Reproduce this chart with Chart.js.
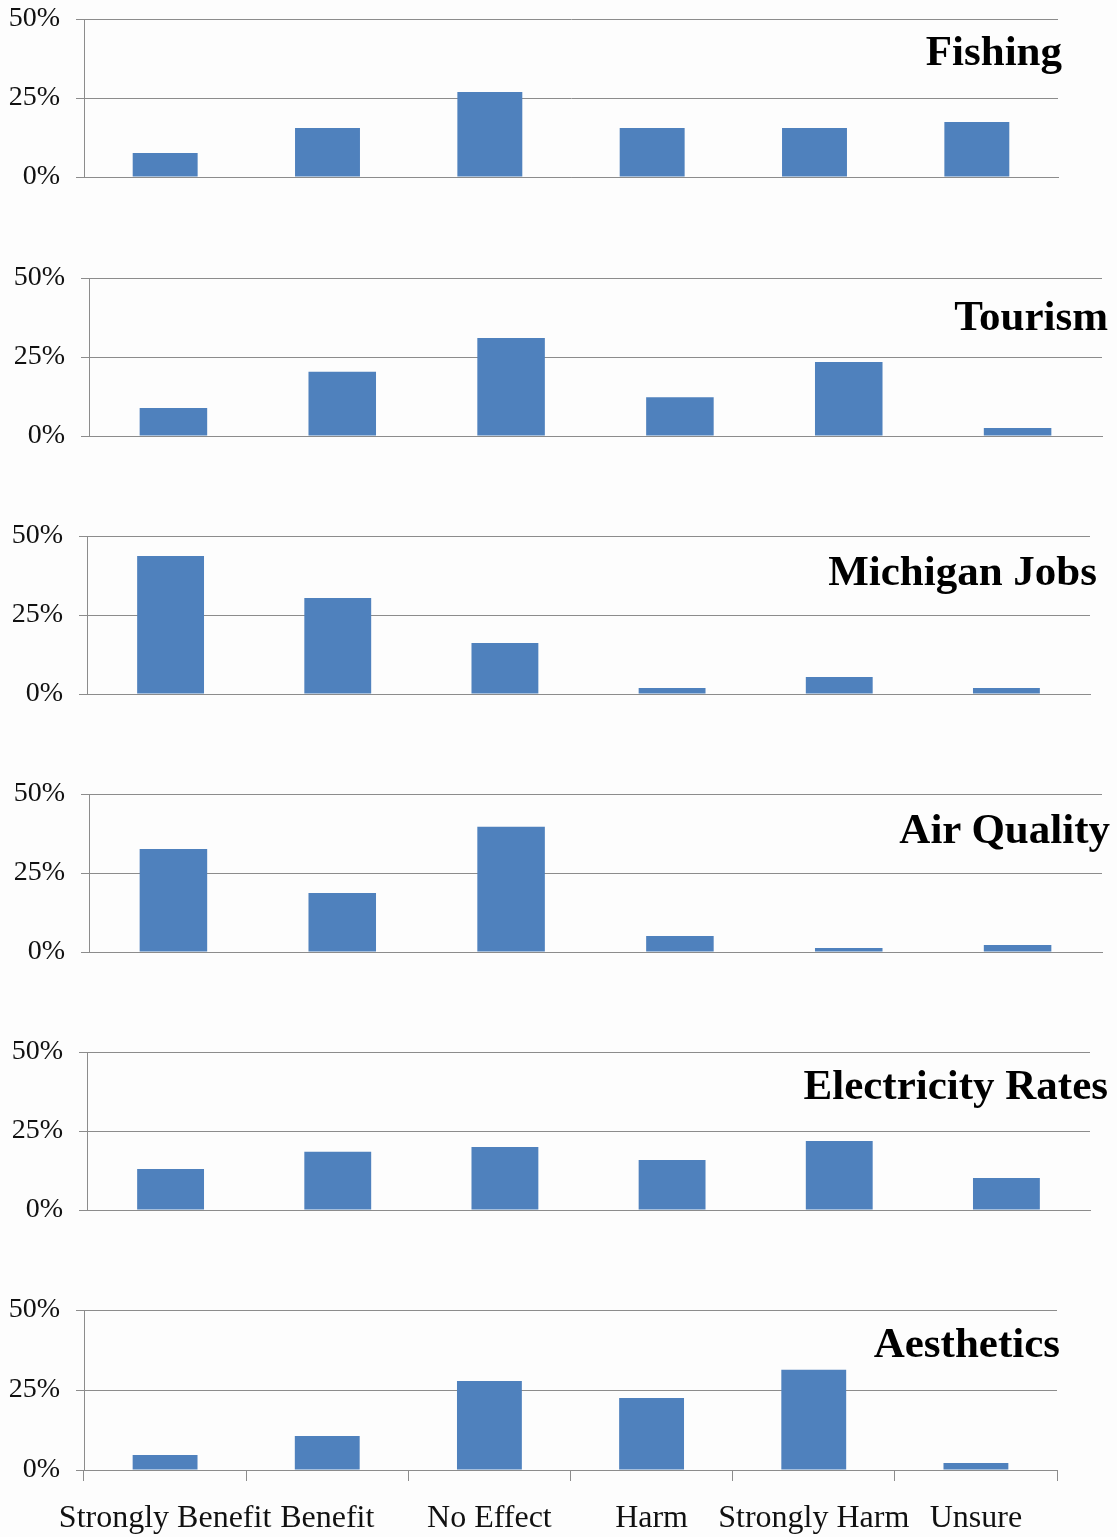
<!DOCTYPE html>
<html>
<head>
<meta charset="utf-8">
<script src="https://cdn.jsdelivr.net/npm/chart.js@4.4.0/dist/chart.umd.min.js"></script>
<style>
  html, body { margin: 0; padding: 0; background: #ffffff; }
  #page { position: relative; width: 1117px; height: 1537px; overflow: hidden; background: #fdfdfd; }
  .panel { position: absolute; left: 0; }
  .panel canvas { display: block; }
  .ttl {
    position: absolute;
    font-family: "Liberation Serif", "DejaVu Serif", serif;
    font-weight: bold;
    font-size: 43px;
    line-height: 43px;
    color: #000;
    white-space: nowrap;
  }
</style>
</head>
<body>
<div id="page"></div>
<script>
// categories shared by every panel
const categories = ['Strongly Benefit', 'Benefit', 'No Effect', 'Harm', 'Strongly Harm', 'Unsure'];
const yTicks = [0, 25, 50];

// percent of respondents
const fishing = [7.6, 15.5, 26.9, 15.5, 15.5, 17.4];
const tourism = [8.9, 20.3, 31.0, 12.3, 23.4, 2.5];
const michiganJobs = [43.7, 30.4, 16.1, 1.9, 5.4, 1.9];
const airQuality = [32.6, 18.7, 39.6, 5.1, 1.3, 2.2];
const electricityRates = [13.0, 18.4, 19.9, 15.8, 21.8, 10.1];
const aesthetics = [4.7, 10.6, 27.8, 22.5, 31.3, 2.2];

const panelTitles = ['Fishing', 'Tourism', 'Michigan Jobs', 'Air Quality', 'Electricity Rates', 'Aesthetics'];
const panelValues = [fishing, tourism, michiganJobs, airQuality, electricityRates, aesthetics];

// plot box of each panel in page pixels, and where its title sits
const layout = [
    { left: 84, right: 1058, top: 19,   bottom: 177,  titleRight: 1062, titleMid: 51 },
    { left: 89, right: 1102, top: 278,  bottom: 436,  titleRight: 1108, titleMid: 316 },
    { left: 87, right: 1090, top: 536,  bottom: 694,  titleRight: 1097, titleMid: 571 },
    { left: 89, right: 1102, top: 794,  bottom: 952,  titleRight: 1110, titleMid: 829 },
    { left: 87, right: 1090, top: 1052, bottom: 1210, titleRight: 1108, titleMid: 1085 },
    { left: 84, right: 1057, top: 1310, bottom: 1470, titleRight: 1060, titleMid: 1343 }
];

const PAGE_W = 1117, PAGE_H = 1537;
const barColor = '#4f81bd';
const lineColor = '#8c8c8c';
const serif = '"Liberation Serif", "DejaVu Serif", serif';

const page = document.getElementById('page');

panelTitles.forEach((title, i) => {
    const box = layout[i];
    const isLast = i === panelTitles.length - 1;
    const padTop = 20;
    const padBottom = isLast ? 0 : 20;
    const xHeight = isLast ? PAGE_H - box.bottom : 0;
    const canvasTop = box.top - padTop;
    const canvasH = (box.bottom - box.top) + padTop + padBottom + xHeight;

    const wrap = document.createElement('div');
    wrap.className = 'panel';
    wrap.style.top = canvasTop + 'px';
    const canvas = document.createElement('canvas');
    canvas.width = PAGE_W;
    canvas.height = canvasH;
    wrap.appendChild(canvas);
    page.appendChild(wrap);

    new Chart(canvas, {
        type: 'bar',
        data: {
            labels: categories,
            datasets: [{
                label: title,
                data: panelValues[i],
                backgroundColor: barColor,
                borderWidth: 0,
                categoryPercentage: 1.0,
                barPercentage: 0.4
            }]
        },
        options: {
            responsive: false,
            animation: false,
            layout: {
                autoPadding: false,
                padding: { top: padTop, bottom: padBottom, left: 0, right: PAGE_W - box.right }
            },
            plugins: { legend: { display: false }, tooltip: { enabled: false }, title: { display: false } },
            scales: {
                x: {
                    afterFit: s => {
                        s.height = xHeight;
                        s.paddingLeft = 0;
                        s.paddingRight = 0;
                    },
                    grid: isLast
                        ? { display: true, offset: true, drawOnChartArea: false, tickLength: 11, color: lineColor, lineWidth: 1 }
                        : { display: false },
                    border: { display: true, color: lineColor, width: 1 },
                    ticks: {
                        display: isLast,
                        autoSkip: false,
                        maxRotation: 0,
                        minRotation: 0,
                        padding: 18,
                        color: '#111',
                        font: { family: serif, size: 32 }
                    }
                },
                y: {
                    min: 0,
                    max: 50,
                    afterFit: s => {
                        s.width = box.left;
                        s.paddingTop = 0;
                        s.paddingBottom = 0;
                    },
                    afterBuildTicks: s => { s.ticks = yTicks.map(v => ({ value: v })); },
                    grid: { color: lineColor, lineWidth: 1, tickLength: 8 },
                    border: { display: true, color: lineColor, width: 1 },
                    ticks: {
                        padding: 16,
                        color: '#111',
                        font: { family: serif, size: 28 },
                        callback: v => v + '%'
                    }
                }
            }
        }
    });

    const t = document.createElement('div');
    t.className = 'ttl';
    t.textContent = title;
    t.style.right = (PAGE_W - box.titleRight) + 'px';
    t.style.top = (box.titleMid - 22) + 'px';
    page.appendChild(t);
});
</script>
</body>
</html>
